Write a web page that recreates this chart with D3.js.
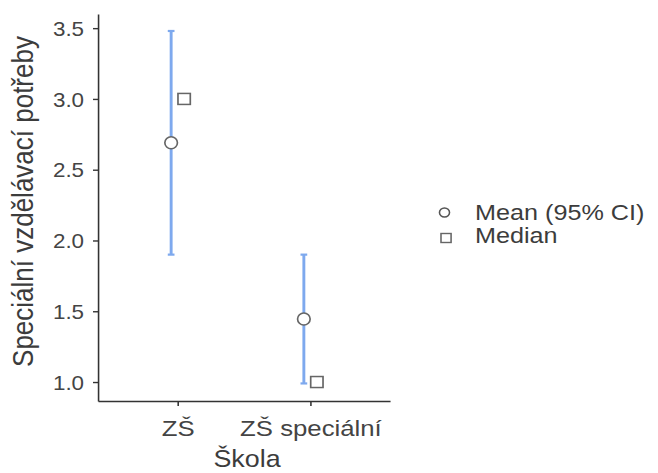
<!DOCTYPE html>
<html>
<head>
<meta charset="utf-8">
<script src="https://cdn.jsdelivr.net/npm/d3@7"></script>
<style>
  body { margin: 0; background: #fff; }
  svg text { font-family: "Liberation Sans", Arial, sans-serif; fill: #3c3c3c; }
</style>
</head>
<body>
<svg id="chart" width="658" height="473"></svg>
<script>
// Data
const categories = ['ZŠ', 'ZŠ speciální'];
const means = [2.69, 1.445];
const ciLow = [1.90, 0.99];
const ciHigh = [3.48, 1.90];
const medians = [3.0, 1.0];
const yTicks = [1.0, 1.5, 2.0, 2.5, 3.0, 3.5];

// the original picture is slightly stretched sideways
const sx = 1.12;
const svg = d3.select('#chart');
const g = svg.append('g').attr('transform', `scale(${sx},1)`);

const plotLeft = 98 / sx, plotRight = 390 / sx, plotTop = 14, plotBottom = 401;

const x = d3.scalePoint().domain(categories).range([plotLeft, plotRight]).padding(0.6);
const y = d3.scaleLinear().domain([0.866, 3.6]).range([plotBottom, plotTop]);

// Axes
const yAxis = g.append('g')
    .attr('transform', `translate(${plotLeft},0)`)
    .call(d3.axisLeft(y).tickValues(yTicks).tickFormat(d3.format('.1f'))
        .tickSizeInner(5 / sx).tickSizeOuter(0).tickPadding(8));
const xAxis = g.append('g')
    .attr('transform', `translate(0,${plotBottom})`)
    .call(d3.axisBottom(x).tickSizeInner(5).tickSizeOuter(0).tickPadding(14));

[yAxis, xAxis].forEach(a => {
    a.select('.domain').attr('stroke', '#333').attr('stroke-width', 1.4);
    a.selectAll('.tick line').attr('stroke', '#333').attr('stroke-width', 1.4);
    a.selectAll('.tick text').style('fill', '#444');
});
yAxis.selectAll('.tick text').attr('font-size', 20).attr('dy', '0.36em');
xAxis.selectAll('.tick text').attr('font-size', 23);

// Axis titles
g.append('text')
    .attr('transform', `translate(${33 / sx},${(plotTop + plotBottom) / 2 - 6}) rotate(-90)`)
    .attr('text-anchor', 'middle')
    .attr('font-size', 26)
    .text('Speciální vzdělávací potřeby');
g.append('text')
    .attr('x', 247 / sx)
    .attr('y', 467)
    .attr('text-anchor', 'middle')
    .attr('font-size', 24)
    .text('Škola');

const dodge = 6.5 / sx;
const blue = '#7ea9ee';

// Error bars
const bars = g.append('g');
categories.forEach((c, i) => {
    const cx = x(c) - dodge;
    bars.append('line')
        .attr('x1', cx).attr('x2', cx)
        .attr('y1', y(ciLow[i])).attr('y2', y(ciHigh[i]))
        .attr('stroke', blue).attr('stroke-width', 2.6);
    [ciLow[i], ciHigh[i]].forEach(v => {
        bars.append('line')
            .attr('x1', cx - 3).attr('x2', cx + 3)
            .attr('y1', y(v)).attr('y2', y(v))
            .attr('stroke', blue).attr('stroke-width', 2.2);
    });
    bars.append('ellipse')
        .attr('cx', cx).attr('cy', y(means[i])).attr('rx', 6 / sx * 1.05).attr('ry', 6)
        .attr('fill', '#fff').attr('stroke', '#666').attr('stroke-width', 1.5);
    bars.append('rect')
        .attr('x', x(c) + dodge - 5.5).attr('y', y(medians[i]) - 5.5)
        .attr('width', 11).attr('height', 11)
        .attr('fill', '#fff').attr('stroke', '#666').attr('stroke-width', 1.5);
});

// Legend
const legend = g.append('g');
legend.append('ellipse').attr('cx', 444.5 / sx).attr('cy', 212.5).attr('rx', 4.5).attr('ry', 4.5)
    .attr('fill', '#fff').attr('stroke', '#555').attr('stroke-width', 1.4);
legend.append('rect').attr('x', 441 / sx).attr('y', 233.5).attr('width', 9).attr('height', 9)
    .attr('fill', '#fff').attr('stroke', '#666').attr('stroke-width', 1.4);
legend.append('text').attr('x', 475 / sx).attr('y', 220).attr('font-size', 22.5).text('Mean (95% CI)');
legend.append('text').attr('x', 475 / sx).attr('y', 243).attr('font-size', 22.5).text('Median');
</script>
</body>
</html>
